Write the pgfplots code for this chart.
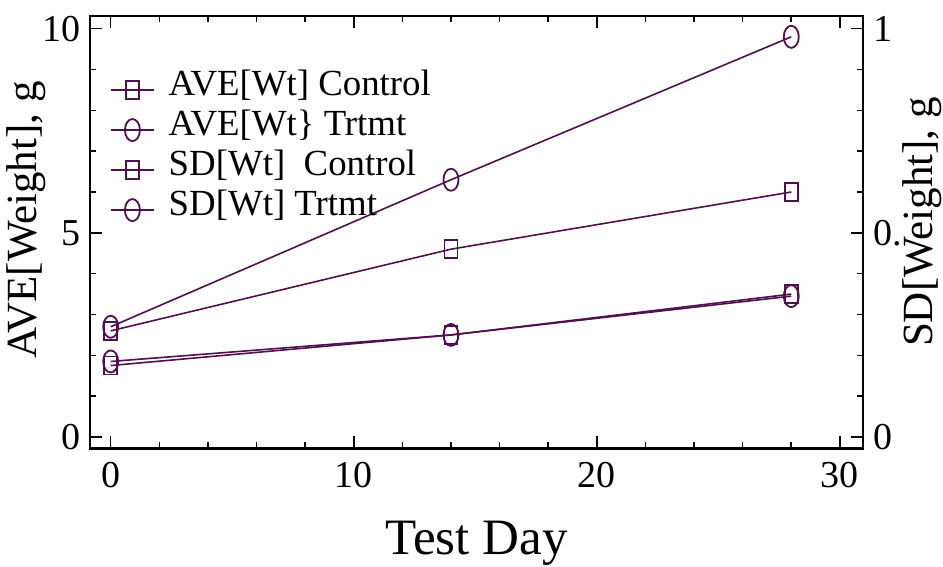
\documentclass[border=0pt]{standalone}
\usepackage{fontspec}
\setmainfont{Liberation Serif}
\usepackage{pgfplots}
\pgfplotsset{compat=1.18}
\definecolor{pl}{RGB}{80,15,78}
\begin{document}
\begin{tikzpicture}
\path[use as bounding box] (-45bp,-58.85bp) rectangle (426.35bp,224.15bp);
\pgfplotsset{
  common/.style={
    scale only axis, width=386.35bp, height=216.15bp,
    xmin=-0.85, xmax=30.95,
    at={(0,0)}, anchor=south west,
    tick label style={font=\fontsize{19bp}{21bp}\selectfont},
    /pgf/number format/assume math mode=true,
    major tick length=6bp, minor tick length=3bp,
    every tick/.style={black, line width=0.8bp},
    axis line style={line width=1.3bp},
    tick align=inside,
    label style={font=\fontsize{21.5bp}{24bp}\selectfont},
  },
  sq/.style={pl, line width=0.8bp, mark=square, mark size=3.25bp, mark options={yscale=1.38, line width=0.9bp, solid}},
  ci/.style={pl, line width=0.8bp, mark=o, mark size=3.75bp, mark options={yscale=1.47, line width=0.9bp, solid}},
}
\begin{axis}[common,
  ymin=-0.28, ymax=10.31,
  xtick={0,10,20,30}, minor x tick num=4,
  ytick={0,5,10}, minor y tick num=4,
  xtick pos=both, xticklabel pos=lower,
  ytick pos=left,
  xticklabel style={yshift=-3.2bp},
  yticklabel style={xshift=-1.2bp},
  xlabel={Test Day},
  ylabel={AVE[Weight], g},
  xlabel style={at={(axis description cs:0.5,0)}, anchor=base, yshift=-53.2bp, font=\fontsize{25.5bp}{28bp}\selectfont},
  ylabel style={at={(axis description cs:-0.0686,0.528)}, rotate=0, anchor=base},
]
\addplot[sq] coordinates {(0,2.6) (14,4.6) (28,6.0)};
\addplot[ci] coordinates {(0,2.7) (14,6.3) (28,9.8)};
\end{axis}
\begin{axis}[common,
  ymin=-0.028, ymax=1.031,
  axis x line=none, axis y line*=right,
  ytick={0,0.5,1}, yticklabels={0,0.5,1}, minor y tick num=4,
  ytick pos=right,
  yticklabel style={xshift=1.8bp},
  ylabel={SD[Weight], g},
  ylabel style={at={(axis description cs:1.0905,0.5235)}, rotate=0, anchor=base, fill=white, inner sep=0pt},
  legend style={at={(axis description cs:0.026,0.875)}, anchor=north west, draw=none, fill=none, inner sep=0pt, outer sep=0pt,
    font=\fontsize{18.4bp}{20bp}\selectfont, row sep=0pt,
    nodes={inner sep=0pt, text height=12.5bp, text depth=7.5bp},
    /tikz/every odd column/.append style={column sep=7bp}},
  legend cell align=left,
  legend image code/.code={\draw[mark repeat=2,mark phase=2] plot coordinates {(0bp,0bp)(10.75bp,0bp)(21.5bp,0bp)};},
]
\addlegendimage{sq}\addlegendentry{AVE[Wt] Control}
\addlegendimage{ci}\addlegendentry{AVE[Wt\} Trtmt}
\addplot[sq] coordinates {(0,0.175) (14,0.25) (28,0.35)};
\addlegendentry{SD[Wt]~~Control}
\addplot[ci] coordinates {(0,0.185) (14,0.25) (28,0.345)};
\addlegendentry{SD[Wt] Trtmt}
\end{axis}
\end{tikzpicture}
\end{document}
